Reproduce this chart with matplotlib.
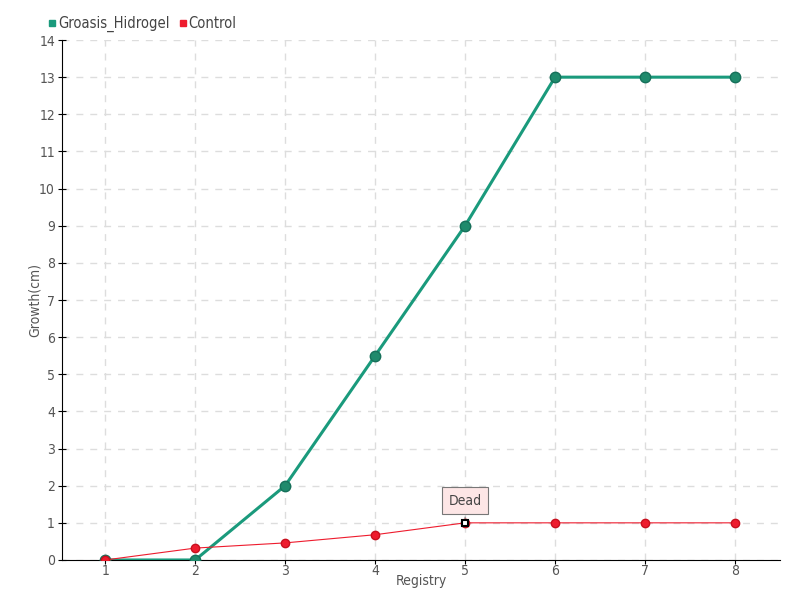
import matplotlib.pyplot as plt
from matplotlib.lines import Line2D

registry = [1, 2, 3, 4, 5, 6, 7, 8]
groasis = [0, 0, 2, 5.5, 9, 13, 13, 13]
control = [0, 0.32, 0.46, 0.68, 1, 1, 1, 1]

green = '#1a9a7c'
red = '#ee1c2e'

plt.rcParams['font.family'] = ['DejaVu Sans']
plt.rcParams['font.stretch'] = 'condensed'

fig = plt.figure(figsize=(8, 6), dpi=100)
ax = fig.add_axes([0.0775, 0.0667, 0.8975, 0.8666])

ax.plot(registry, groasis, color=green, lw=2.2, marker='o', ms=7.5,
        mfc='#1f8a6c', mec='#16705a', mew=1, zorder=3)
ax.plot(registry, control, color=red, lw=0.8, marker='o', ms=6,
        mfc=red, mec='#c8101e', zorder=4)
# dead marker
ax.plot([registry[4]], [control[4]], marker='s', ms=5, mfc='white', mec='black',
        mew=1.5, ls='none', zorder=5)
ax.annotate('Dead', xy=(registry[4], control[4]), xytext=(0, 16),
            textcoords='offset points', ha='center', va='center', fontsize=10,
            color='#444444',
            bbox=dict(boxstyle='square,pad=0.45', fc='#fde6e6', ec='#777777', lw=0.8),
            arrowprops=dict(arrowstyle='-', color='#777777', lw=0.8))

ax.set_xlim(0.52, 8.5)
ax.set_ylim(0, 14)
ax.set_xticks(registry)
ax.set_yticks(range(0, 15))
ax.grid(True, ls=(0, (5, 5)), color='#dddddd', lw=1)
ax.set_axisbelow(True)
for s in ['top', 'right']:
    ax.spines[s].set_visible(False)
ax.spines['left'].set_color('black')
ax.spines['bottom'].set_color('black')
ax.tick_params(axis='y', direction='inout', length=6, labelsize=10, labelcolor='#555555', pad=2)
ax.tick_params(axis='x', direction='out', length=3, labelsize=10, labelcolor='#555555', pad=0)
ax.set_xlabel('Registry', fontsize=10, color='#555555', labelpad=-3)
ax.set_ylabel('Growth(cm)', fontsize=10, color='#555555', labelpad=-2)

handles = [Line2D([], [], marker='s', ls='none', color=green, ms=4.5),
           Line2D([], [], marker='s', ls='none', color=red, ms=4.5)]
fig.legend(handles, ['Groasis_Hidrogel', 'Control'], loc='upper left',
           bbox_to_anchor=(0.038, 0.995), ncol=2, frameon=False, fontsize=10.5,
           handletextpad=-0.2, columnspacing=0.3, handlelength=1.2, labelcolor='#444444')

fig.savefig('out.png')
